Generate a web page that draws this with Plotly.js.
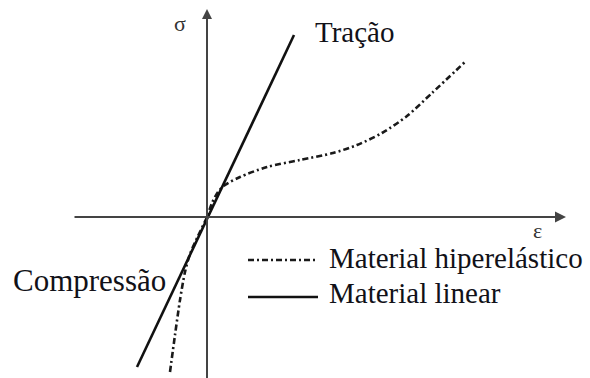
<!DOCTYPE html>
<html>
<head>
<meta charset="utf-8">
<script src="https://cdn.plot.ly/plotly-3.0.1.min.js"></script>
<style>
  html, body { margin: 0; padding: 0; background: #ffffff; }
  #chart { width: 590px; height: 378px; }
</style>
</head>
<body>
<div id="chart"></div>
<script>
// Schematic stress–strain curves (arbitrary units): ε on x, σ on y.
const seriesNames = ["Material hiperelástico", "Material linear"];

// Linear material: straight line through the origin
const epsLinear = [-7.0, 8.7];
const sigmaLinear = [-15.0, 18.2];

// Hyperelastic material: stiff start, plateau, then stiffening
const epsHyper = [-3.7, -3.2, -2.7, -2.2, -1.7, -0.9, 0.0, 0.5, 1.1, 1.8, 3.3, 6.0, 9.3, 12.6, 15.0, 17.5, 20.0, 22.5, 25.8];
const sigmaHyper = [-15.5, -11.8, -8.3, -5.5, -3.7, -1.9, 0.0, 1.4, 2.5, 3.2, 4.0, 5.0, 5.7, 6.4, 7.2, 8.4, 10.1, 12.4, 15.5];

// Region annotations
const labelTraction = "Tração";
const labelCompression = "Compressão";
const labelStress = "σ";
const labelStrain = "ε";

const textColor = "#111118";
const serif = "Liberation Serif, Times New Roman, serif";
const hyperDash = "6px,3px,2px,3px";

const traces = [
  {
    x: epsHyper, y: sigmaHyper, name: seriesNames[0],
    mode: "lines", line: { color: "#1a1a1a", width: 2.6, dash: hyperDash, shape: "spline", smoothing: 0.8 },
    hoverinfo: "skip"
  },
  {
    x: epsLinear, y: sigmaLinear, name: seriesNames[1],
    mode: "lines", line: { color: "#111111", width: 2.6 },
    hoverinfo: "skip"
  }
];

const axisColor = "#444444";

const layout = {
  width: 590, height: 378,
  margin: { l: 0, r: 0, t: 0, b: 0 },
  paper_bgcolor: "#ffffff", plot_bgcolor: "#ffffff",
  showlegend: false,
  xaxis: { range: [-20.7, 38.3], visible: false, fixedrange: true },
  yaxis: { range: [-16.1, 21.7], visible: false, fixedrange: true },
  shapes: [
    // legend samples
    { type: "line", xref: "x", yref: "y", x0: 4.1, x1: 11.1, y0: -4.3, y1: -4.3,
      line: { color: "#1a1a1a", width: 2.6, dash: hyperDash } },
    { type: "line", xref: "x", yref: "y", x0: 4.1, x1: 11.1, y0: -8.0, y1: -8.0,
      line: { color: "#111111", width: 2.6 } }
  ],
  annotations: [
    // ε axis with arrow
    { x: 35.9, y: 0, ax: -13.4, ay: 0, xref: "x", yref: "y", axref: "x", ayref: "y",
      showarrow: true, arrowhead: 2, arrowsize: 1, arrowwidth: 2.2, arrowcolor: axisColor, text: "" },
    // σ axis with arrow
    { x: 0, y: 20.8, ax: 0, ay: -16.5, xref: "x", yref: "y", axref: "x", ayref: "y",
      showarrow: true, arrowhead: 2, arrowsize: 1, arrowwidth: 2, arrowcolor: axisColor, text: "" },
    { x: -2.7, y: 19.4, xref: "x", yref: "y", text: labelStress, showarrow: false,
      font: { family: serif, size: 22, color: "#333333" } },
    { x: 33.0, y: -1.3, xref: "x", yref: "y", text: labelStrain, showarrow: false,
      font: { family: serif, size: 22, color: "#333333" } },
    { x: 10.6, y: 18.5, xref: "x", yref: "y", xanchor: "left", text: labelTraction, showarrow: false,
      font: { family: serif, size: 29, color: textColor } },
    { x: -19.6, y: -6.3, xref: "x", yref: "y", xanchor: "left", text: labelCompression, showarrow: false,
      font: { family: serif, size: 31, color: textColor } },
    { x: 12.0, y: -4.1, xref: "x", yref: "y", xanchor: "left", text: seriesNames[0], showarrow: false,
      font: { family: serif, size: 29, color: textColor } },
    { x: 12.0, y: -7.6, xref: "x", yref: "y", xanchor: "left", text: seriesNames[1], showarrow: false,
      font: { family: serif, size: 29, color: textColor } }
  ]
};

Plotly.newPlot("chart", traces, layout, { staticPlot: true, displayModeBar: false });
</script>
</body>
</html>
